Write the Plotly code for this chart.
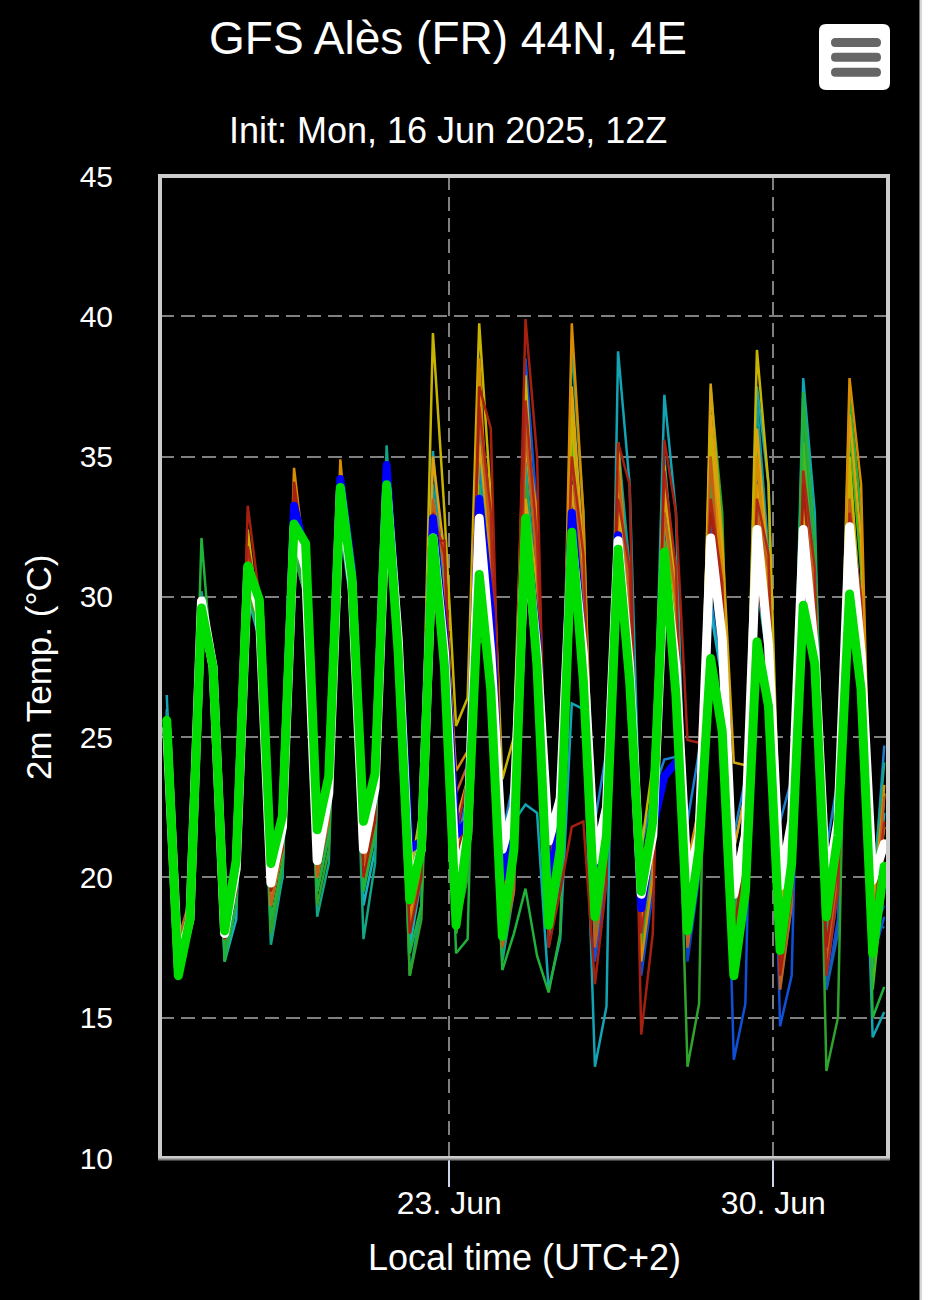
import pandas as pd
import plotly.graph_objects as go

# ---------------- data ----------------
times = pd.date_range("2025-06-16 21:30", periods=63, freq="6h")
tick_dates = ["2025-06-23", "2025-06-30"]
tick_labels = ["23. Jun", "30. Jun"]
y_ticks = [10, 15, 20, 25, 30, 35, 40, 45]

control = [25.6, 16.5, 18.5, 29.6, 27.5, 18.1, 20.6, 31.1, 29.9, 20.5, 22.2, 32.6,
           31.9, 21.7, 23.6, 33.9, 30.7, 22.0, 23.7, 34.0, 28.0, 19.2, 21.0, 32.1,
           27.5, 18.3, 21.5, 30.8, 26.7, 17.9, 21.0, 32.8, 27.5, 18.3, 21.0, 32.3,
           27.0, 18.6, 21.5, 31.7, 27.0, 19.5, 22.0, 31.6, 26.5, 18.1, 21.0, 27.8,
           25.2, 16.5, 19.5, 28.4, 26.1, 17.4, 20.5, 29.7, 27.6, 18.6, 21.5, 30.1,
           26.7, 17.3, 20.4]
ens_mean = [25.3, 16.8, 18.5, 29.85, 27.5, 18.0, 20.3, 31.0, 29.5, 19.8, 21.8, 32.5,
            31.0, 20.6, 23.0, 33.8, 30.5, 21.0, 23.2, 33.9, 28.5, 19.6, 21.0, 32.1,
            28.0, 19.9, 21.5, 32.8, 28.0, 21.0, 22.5, 32.2, 28.0, 21.3, 22.8, 32.0,
            28.0, 20.6, 22.5, 32.0, 27.5, 19.4, 21.5, 31.2, 27.5, 19.8, 21.5, 32.1,
            28.5, 19.4, 21.5, 32.4, 28.3, 19.7, 22.0, 32.4, 28.0, 19.6, 22.0, 32.5,
            28.0, 19.9, 21.2]
operational = [25.4, 16.7, 18.6, 29.7, 27.6, 18.2, 20.5, 31.0, 29.8, 20.0, 22.0, 33.25,
               31.5, 21.2, 23.4, 34.2, 31.0, 21.5, 23.5, 34.7, 28.5, 21.0, 21.3, 32.8,
               28.5, 21.5, 22.0, 33.5, 29.5, 20.0, 22.0, 32.4, 28.5, 19.5, 22.0, 33.0,
               28.0, 20.5, 22.0, 32.2, 27.5, 18.9, 21.8, 23.6, 24.1]

m_yellow = [25.0, 17.0, 18.8, 29.0, 27.0, 18.3, 20.8, 32.4, 29.0, 19.5, 22.0, 33.0,
            30.5, 20.5, 23.0, 33.5, 30.0, 21.0, 23.5, 34.2, 29.5, 20.0, 22.5, 39.4,
            33.0, 25.4, 26.4, 39.75, 33.5, 23.5, 25.0, 37.9, 31.0, 21.0, 23.5, 36.5,
            30.0, 20.5, 23.0, 34.0, 29.0, 21.0, 24.0, 34.7, 30.0, 19.0, 23.0, 35.8,
            30.0, 20.0, 22.0, 38.8, 34.0, 20.5, 22.0, 32.9, 28.0, 20.0, 22.5, 35.0,
            29.0, 19.5, 21.8]
m_orange = [25.2, 17.5, 19.0, 29.5, 27.8, 17.8, 19.8, 30.5, 29.0, 19.0, 21.5, 34.6,
            31.0, 20.0, 22.5, 34.9, 30.0, 20.5, 22.8, 33.5, 29.0, 18.5, 21.0, 33.0,
            30.0, 23.8, 24.5, 38.5, 30.0, 20.0, 22.0, 36.0, 33.0, 18.5, 21.0, 39.75,
            33.0, 19.5, 22.0, 35.5, 29.0, 17.0, 20.0, 33.0, 29.5, 20.5, 22.5, 35.0,
            31.0, 17.0, 21.0, 35.0, 30.0, 16.8, 20.0, 34.5, 29.0, 18.5, 21.5, 37.8,
            34.0, 18.0, 23.3]
m_red = [24.8, 17.2, 18.5, 30.0, 28.0, 17.8, 19.5, 33.25, 30.0, 19.5, 21.0, 34.1,
         31.0, 20.5, 22.5, 33.5, 30.5, 20.0, 22.0, 34.0, 28.0, 18.0, 20.0, 32.0,
         32.0, 20.5, 22.5, 37.5, 36.0, 21.0, 23.0, 39.9, 35.0, 17.5, 19.5, 21.8,
         22.0, 16.2, 19.8, 35.5, 34.0, 14.4, 18.0, 35.6, 33.0, 24.9, 24.8, 33.0,
         30.0, 18.0, 21.0, 30.5, 28.0, 16.5, 19.5, 34.0, 29.0, 17.5, 20.5, 32.0,
         27.0, 17.5, 21.0]
m_red2 = [25.1, 17.0, 18.6, 29.4, 27.3, 18.4, 20.5, 31.8, 29.6, 19.8, 21.8, 33.4,
          31.2, 20.8, 22.8, 33.8, 30.6, 21.2, 23.2, 34.2, 28.8, 19.0, 21.0, 33.0,
          31.5, 21.5, 23.5, 36.8, 33.0, 19.5, 22.0, 37.0, 32.0, 20.5, 22.5, 35.0,
          31.5, 20.0, 22.0, 33.5, 31.0, 18.0, 21.0, 34.5, 31.0, 18.5, 21.5, 33.5,
          30.5, 17.5, 20.5, 33.5, 31.5, 17.0, 20.0, 34.5, 31.0, 16.5, 19.5, 33.0,
          30.0, 18.0, 22.0]
m_teal = [26.5, 17.0, 18.0, 30.0, 28.0, 17.5, 19.5, 31.0, 29.0, 19.0, 21.0, 32.5,
          30.5, 20.0, 22.0, 33.5, 31.0, 21.0, 23.0, 34.5, 29.0, 19.0, 21.5, 35.2,
          30.0, 20.5, 22.5, 36.0, 29.0, 22.1, 22.0, 22.6, 22.3, 16.0, 17.8, 26.2,
          26.0, 13.25, 15.4, 38.75, 34.0, 20.0, 22.5, 37.2, 33.0, 18.5, 22.0, 33.0,
          30.0, 21.0, 23.0, 37.5, 34.0, 18.0, 21.5, 37.8, 33.0, 17.0, 20.5, 34.0,
          27.0, 14.3, 15.2]
m_teal2 = [25.9, 17.2, 18.9, 30.2, 27.8, 18.6, 20.7, 31.3, 29.7, 20.2, 22.3, 32.8,
           31.5, 21.0, 23.2, 34.0, 31.2, 20.8, 23.0, 34.8, 29.2, 19.8, 21.8, 34.0,
           30.5, 20.0, 22.5, 35.5, 31.0, 19.0, 21.5, 36.5, 31.5, 19.5, 22.0, 36.0,
           31.0, 18.5, 21.5, 35.5, 31.0, 19.5, 22.0, 35.0, 30.0, 18.5, 21.5, 34.5,
           30.5, 18.5, 21.5, 37.0, 31.5, 18.5, 21.5, 36.0, 31.0, 18.5, 21.5, 34.5,
           29.5, 16.5, 23.0]
m_green = [25.0, 16.8, 18.2, 32.1, 27.0, 17.0, 19.0, 30.5, 28.5, 18.5, 20.5, 32.0,
           30.0, 19.5, 21.5, 33.0, 29.5, 19.5, 21.5, 33.5, 27.0, 17.3, 19.0, 31.0,
           28.5, 17.3, 17.8, 34.0, 25.0, 16.7, 18.0, 19.6, 17.2, 15.9, 18.0, 33.0,
           29.0, 18.5, 21.0, 33.5, 30.0, 19.0, 21.5, 32.0, 30.0, 20.0, 22.5, 34.0,
           28.0, 18.0, 20.5, 35.9, 30.0, 18.0, 21.0, 37.3, 32.0, 19.0, 22.0, 37.1,
           33.0, 15.0, 16.1]
m_green2 = [25.5, 16.6, 18.3, 29.0, 27.0, 17.5, 20.0, 30.0, 29.0, 18.0, 20.5, 31.5,
            30.0, 19.0, 21.0, 32.5, 30.0, 19.5, 22.0, 33.0, 27.5, 16.5, 18.5, 31.0,
            28.0, 18.0, 20.0, 28.5, 28.0, 19.0, 21.5, 34.0, 29.0, 19.5, 22.0, 33.0,
            28.0, 18.0, 20.5, 31.0, 28.0, 17.5, 20.0, 30.0, 27.0, 13.25, 15.5, 37.4,
            33.0, 18.5, 21.0, 34.0, 30.0, 20.0, 22.5, 36.5, 32.0, 13.1, 15.0, 35.0,
            28.0, 17.0, 19.5]
m_lime = [25.3, 16.7, 18.4, 29.9, 27.1, 17.9, 20.0, 31.2, 29.2, 19.2, 21.2, 32.3,
          30.7, 20.2, 22.2, 33.2, 30.2, 20.2, 22.4, 33.8, 28.0, 18.2, 20.4, 32.6,
          29.0, 19.0, 21.0, 33.5, 29.5, 18.0, 20.5, 33.0, 30.0, 18.5, 21.0, 35.5,
          30.5, 19.0, 21.5, 34.0, 30.0, 18.0, 21.0, 33.0, 29.0, 18.0, 21.0, 36.0,
          31.0, 18.0, 21.0, 33.0, 29.5, 17.5, 20.5, 35.5, 30.5, 17.5, 20.5, 36.0,
          31.0, 16.0, 20.0]
m_blue = [25.8, 17.0, 18.8, 30.0, 27.5, 18.5, 20.5, 31.5, 29.5, 19.5, 21.5, 33.0,
          31.5, 21.0, 23.0, 34.5, 31.0, 21.0, 23.5, 34.3, 29.0, 18.5, 21.0, 32.5,
          29.5, 19.0, 21.5, 34.6, 31.0, 18.5, 21.0, 38.5, 33.0, 20.0, 22.0, 37.0,
          31.0, 17.0, 20.0, 33.0, 29.0, 16.5, 19.5, 32.0, 28.0, 19.0, 21.5, 33.0,
          28.0, 13.5, 15.5, 34.0, 30.0, 14.7, 16.5, 33.0, 28.0, 16.0, 18.5, 33.5,
          28.0, 17.1, 18.6]
m_blue2 = [25.6, 16.9, 18.4, 29.6, 27.4, 18.0, 20.2, 30.8, 29.2, 19.4, 21.4, 32.4,
           31.0, 20.4, 22.6, 33.6, 30.4, 20.6, 22.8, 33.8, 28.2, 18.6, 20.6, 32.8,
           29.0, 19.5, 21.8, 33.0, 30.0, 18.8, 21.5, 35.5, 31.0, 18.5, 21.0, 34.0,
           30.0, 17.5, 20.5, 32.5, 29.0, 16.8, 19.8, 33.5, 29.5, 17.0, 20.0, 32.0,
           28.5, 17.0, 20.0, 34.5, 30.0, 16.0, 19.0, 33.5, 29.0, 16.5, 19.5, 31.5,
           27.5, 18.0, 19.0]
m_navy = [25.7, 17.1, 18.7, 29.7, 27.5, 18.3, 20.4, 31.2, 29.5, 19.7, 21.7, 32.6,
          31.3, 20.9, 23.1, 33.7, 30.9, 21.2, 23.4, 34.4, 28.8, 19.5, 21.5, 32.8,
          29.5, 20.0, 22.0, 32.5, 29.5, 20.5, 22.5, 31.5, 29.0, 20.0, 22.5, 32.0,
          29.5, 19.0, 21.5, 33.5, 30.0, 20.0, 22.5, 32.5, 29.5, 20.0, 22.5, 31.5,
          29.0, 19.5, 22.0, 33.0, 30.0, 19.0, 21.5, 34.0, 30.0, 16.0, 18.0, 33.0,
          29.0, 18.5, 18.2]
m_tealgreen = [25.2, 16.9, 18.0, 29.5, 27.0, 17.2, 19.0, 30.5, 28.5, 17.6, 20.0, 32.0,
               30.0, 18.6, 20.5, 33.0, 30.0, 17.8, 20.5, 35.4, 28.0, 16.5, 19.0, 32.5,
               28.0, 18.0, 20.5, 34.0, 29.0, 17.0, 19.5, 34.7, 30.0, 17.5, 20.0, 39.0,
               33.0, 19.0, 21.5, 35.5, 30.0, 18.5, 21.0, 34.0, 29.0, 17.5, 20.5, 33.5,
               31.0, 19.0, 21.5, 36.0, 30.5, 19.0, 22.0, 35.0, 30.0, 18.0, 21.0, 33.0,
               29.0, 19.5, 24.1]
m_brown = [25.0, 17.8, 19.2, 29.2, 27.5, 18.0, 19.8, 31.5, 30.0, 19.0, 21.0, 33.5,
           31.0, 20.0, 22.0, 34.0, 30.0, 20.5, 22.0, 33.0, 28.5, 18.0, 20.5, 33.5,
           31.0, 23.0, 24.0, 36.5, 32.0, 17.5, 19.5, 36.0, 31.0, 18.0, 21.0, 35.0,
           30.0, 17.5, 20.5, 34.5, 30.0, 19.0, 21.5, 33.0, 30.0, 17.5, 20.5, 35.0,
           29.0, 17.5, 21.0, 33.0, 31.0, 16.0, 19.0, 34.5, 30.0, 17.0, 20.0, 33.5,
           29.0, 17.5, 22.9]
m_skyblue = [25.5, 17.3, 19.0, 29.8, 27.2, 18.5, 20.8, 31.0, 29.3, 20.0, 22.5, 32.5,
             31.2, 21.3, 23.5, 33.5, 30.8, 21.5, 23.8, 34.0, 28.5, 20.0, 22.0, 33.0,
             30.0, 21.0, 23.0, 35.0, 30.0, 21.5, 23.5, 33.5, 30.0, 21.0, 23.5, 33.0,
             30.5, 22.0, 24.5, 33.5, 29.5, 21.0, 23.0, 24.2, 24.3, 22.0, 24.5, 30.0,
             27.0, 21.5, 23.5, 31.5, 29.0, 22.0, 23.5, 31.0, 27.5, 21.0, 23.5, 32.0,
             27.0, 19.0, 24.7]
m_cyan = [26.0, 17.5, 18.6, 29.3, 27.0, 17.0, 18.5, 30.0, 28.5, 18.5, 20.0, 31.5,
          30.0, 19.5, 21.5, 32.5, 29.5, 19.0, 21.0, 33.0, 27.5, 17.5, 20.0, 32.0,
          28.0, 19.5, 22.0, 33.0, 28.0, 20.0, 22.5, 31.0, 28.5, 20.5, 22.5, 30.5,
          28.0, 19.5, 22.0, 31.0, 27.0, 17.5, 20.5, 30.5, 27.5, 18.5, 21.0, 29.5,
          27.0, 18.0, 21.0, 30.5, 27.5, 19.0, 22.0, 32.0, 28.0, 18.0, 21.0, 31.0,
          28.5, 17.5, 22.3]
m_gold = [24.6, 17.5, 19.0, 29.0, 27.2, 18.0, 20.0, 31.5, 29.0, 19.0, 21.0, 32.0,
          31.0, 20.0, 22.5, 33.5, 30.0, 20.0, 22.0, 33.5, 30.0, 19.5, 21.5, 33.5,
          31.0, 21.0, 22.5, 35.5, 31.5, 19.5, 21.0, 33.5, 30.5, 19.0, 21.5, 34.0,
          29.5, 18.5, 21.0, 32.5, 30.0, 18.5, 21.0, 33.5, 31.0, 18.0, 20.5, 37.6,
          32.0, 24.1, 24.0, 34.0, 30.0, 19.0, 21.5, 33.5, 30.0, 19.5, 22.0, 34.5,
          28.0, 18.5, 21.8]
m_amber = [24.9, 17.4, 19.1, 29.3, 27.6, 18.1, 20.1, 31.7, 29.4, 19.3, 21.3, 33.2,
           31.1, 20.3, 22.3, 34.2, 30.3, 20.3, 22.3, 33.2, 29.2, 19.2, 21.2, 35.0,
           31.5, 22.0, 23.5, 37.0, 32.5, 21.0, 23.0, 35.5, 31.5, 19.5, 22.0, 37.5,
           31.5, 20.0, 22.5, 33.0, 30.0, 18.5, 21.5, 34.0, 30.5, 19.5, 22.5, 36.5,
           31.5, 21.0, 23.0, 36.0, 31.0, 19.5, 22.0, 34.0, 30.5, 19.0, 22.0, 36.5,
           32.0, 19.0, 23.0]

members = [
    (m_blue, "#1050d8"), (m_navy, "#1060b0"), (m_skyblue, "#1a7fd0"),
    (m_blue2, "#0a40c8"), (m_cyan, "#16b0c4"), (m_teal, "#12a3b4"),
    (m_teal2, "#0e9a9a"), (m_tealgreen, "#12a584"), (m_green2, "#2ea52a"),
    (m_lime, "#45b81e"), (m_green, "#1fb33a"), (m_gold, "#d4a20a"),
    (m_amber, "#e0a010"), (m_yellow, "#c8b400"), (m_orange, "#d88c00"),
    (m_brown, "#c0601a"), (m_red2, "#b02818"), (m_red, "#a5200f"),
]

# ---------------- figure ----------------
W, H = 928, 1300
L, R, T, B = 160, 888, 176, 1158


def px(x):
    return (x - L) / (R - L)


def py(y):
    return (B - y) / (B - T)


fig = go.Figure()
for vals, col in members:
    fig.add_trace(go.Scatter(x=times, y=vals, mode="lines",
                             line=dict(color=col, width=2.5),
                             hoverinfo="skip", showlegend=False))
fig.add_trace(go.Scatter(x=times[:len(operational)], y=operational, mode="lines",
                         line=dict(color="#0000ff", width=8),
                         hoverinfo="skip", showlegend=False))
fig.add_trace(go.Scatter(x=times, y=ens_mean, mode="lines",
                         line=dict(color="#ffffff", width=9),
                         hoverinfo="skip", showlegend=False))
fig.add_trace(go.Scatter(x=times, y=control, mode="lines",
                         line=dict(color="#00dd00", width=9),
                         hoverinfo="skip", showlegend=False))

font_family = "Liberation Sans, Arial, Helvetica, sans-serif"

fig.update_layout(
    width=W, height=H,
    paper_bgcolor="#000000", plot_bgcolor="#000000",
    margin=dict(l=L, r=W - R, t=T, b=H - B, pad=0),
    showlegend=False,
    font=dict(family=font_family, color="#ffffff"),
)
fig.update_xaxes(
    type="date",
    range=["2025-06-16 18:00", "2025-07-02 11:27"],
    tickvals=tick_dates, ticktext=tick_labels,
    showgrid=True, gridcolor="#808080", gridwidth=2, griddash="14px,7px",
    ticks="outside", ticklen=28, tickwidth=2, tickcolor="#ccd6eb",
    ticklabelstandoff=-11,
    tickfont=dict(size=32, color="#ffffff", family=font_family),
    zeroline=False, showline=False,
)
fig.update_yaxes(
    range=[10, 45], tickvals=y_ticks,
    showgrid=True, gridcolor="#808080", gridwidth=2, griddash="14px,7px",
    ticks="", ticklabelstandoff=46,
    tickfont=dict(size=30, color="#ffffff", family=font_family),
    zeroline=False, showline=False,
)


def rrect(x0, y0, x1, y1, r):
    def P(x, y):
        return f"{px(x):.5f},{py(y):.5f}"
    return (f"M {P(x0 + r, y0)} L {P(x1 - r, y0)} Q {P(x1, y0)} {P(x1, y0 + r)} "
            f"L {P(x1, y1 - r)} Q {P(x1, y1)} {P(x1 - r, y1)} L {P(x0 + r, y1)} "
            f"Q {P(x0, y1)} {P(x0, y1 - r)} L {P(x0, y0 + r)} Q {P(x0, y0)} {P(x0 + r, y0)} Z")


shapes = [
    # plot frame
    dict(type="rect", xref="paper", yref="paper", x0=0, x1=1, y0=0, y1=1,
         line=dict(color="#cccccc", width=4), fillcolor="rgba(0,0,0,0)", layer="above"),
    dict(type="line", xref="paper", yref="paper", x0=px(158), x1=px(890),
         y0=py(1159.5), y1=py(1159.5), line=dict(color="#808080", width=2), layer="above"),
    # right edge of the chart container
    dict(type="rect", xref="paper", yref="paper", x0=px(919.5), x1=px(922),
         y0=py(1302), y1=py(-2), line=dict(width=0), fillcolor="#d6d6d6", layer="above"),
    dict(type="rect", xref="paper", yref="paper", x0=px(922), x1=px(930),
         y0=py(1302), y1=py(-2), line=dict(width=0), fillcolor="#ffffff", layer="above"),
    # menu button
    dict(type="path", xref="paper", yref="paper", path=rrect(819, 24, 890, 90, 7),
         fillcolor="#ffffff", line=dict(width=0), layer="above"),
]
for yc in (42.5, 57.3, 72.2):
    shapes.append(dict(type="path", xref="paper", yref="paper",
                       path=rrect(831, yc - 4.5, 881, yc + 4.5, 4.5),
                       fillcolor="#666666", line=dict(width=0), layer="above"))
fig.update_layout(shapes=shapes)

annotations = [
    dict(text="GFS Alès (FR) 44N, 4E", x=px(447.5), y=py(38), font=dict(size=46)),
    dict(text="Init: Mon, 16 Jun 2025, 12Z", x=px(448), y=py(130), font=dict(size=36)),
    dict(text="Local time (UTC+2)", x=px(524.5), y=py(1257), font=dict(size=36)),
    dict(text="2m Temp. (°C)", x=px(38), y=py(668), font=dict(size=35), textangle=-90),
]
for a in annotations:
    a.update(xref="paper", yref="paper", xanchor="center", yanchor="middle",
             showarrow=False)
    a["font"].update(color="#ffffff", family=font_family)
fig.update_layout(annotations=annotations)

post = (
    "document.body.style.margin='0';"
    "document.body.style.padding='0';"
    "document.body.style.background='#000';"
    "var s=document.createElement('style');"
    "s.innerHTML='.scatterlayer .trace:nth-last-child(-n+3) .js-line{stroke-linejoin:round !important;stroke-linecap:round !important;}';"
    "document.head.appendChild(s);"
)
fig.write_html("out.html", post_script=post, config={"displayModeBar": False})
